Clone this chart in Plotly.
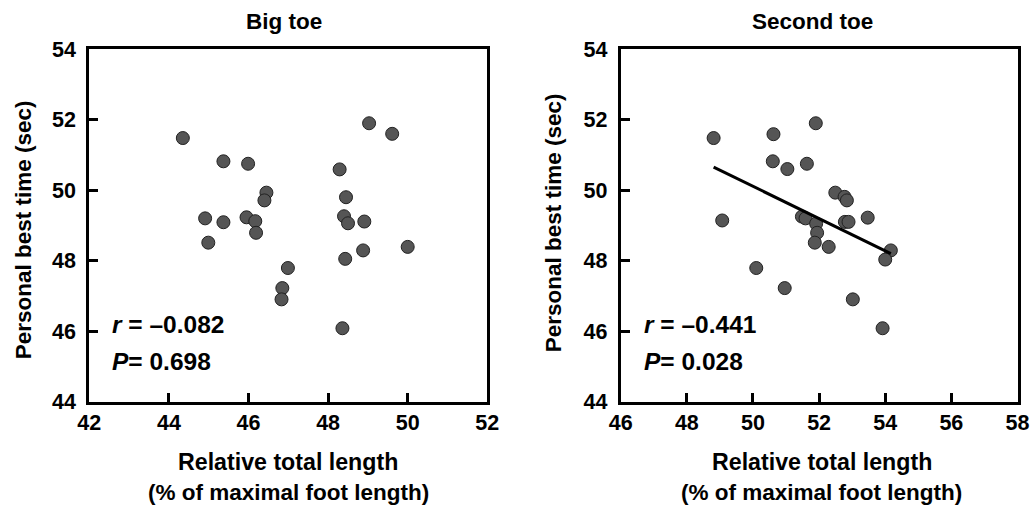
import numpy as np
import plotly.graph_objects as go

# Personal best time (sec)
best_time_big = [51.48, 50.82, 50.75, 51.90, 51.60, 50.59, 49.93, 49.71, 49.20, 49.09,
                 49.23, 49.12, 48.79, 48.51, 49.80, 49.26, 49.06, 49.11, 48.29, 48.39,
                 48.05, 47.79, 47.22, 46.90, 46.08]
big_toe_len = [44.35, 45.37, 45.99, 49.03, 49.61, 48.29, 46.45, 46.40, 44.91, 45.37,
               45.95, 46.17, 46.19, 44.99, 48.45, 48.40, 48.50, 48.91, 48.88, 50.00,
               48.43, 46.99, 46.85, 46.83, 48.36]

best_time_second = [51.48, 49.14, 51.59, 50.82, 50.60, 50.75, 51.90, 49.93, 49.81, 49.71,
                    49.25, 49.20, 49.05, 48.79, 48.51, 48.39, 49.10, 49.10, 49.22, 48.29,
                    48.03, 47.79, 47.22, 46.90, 46.08]
second_toe_len = [48.81, 49.07, 50.62, 50.60, 51.04, 51.63, 51.90, 52.49, 52.77, 52.84,
                  51.48, 51.59, 51.91, 51.94, 51.87, 52.29, 52.78, 52.89, 53.47, 54.17,
                  54.00, 50.10, 50.96, 53.02, 53.92]

titles = ["Big toe", "Second toe"]
stats_r = ["–0.082", "–0.441"]
stats_p = ["0.698", "0.028"]
y_ticks = [44, 46, 48, 50, 52, 54]
x_ticks_big = [42, 44, 46, 48, 50, 52]
x_ticks_second = [46, 48, 50, 52, 54, 56, 58]

FONT = "Liberation Sans, Arial, sans-serif"
W, H = 1031, 507

fig = go.Figure()

marker = dict(size=13, color="#555555", line=dict(color="#222222", width=1))
fig.add_trace(go.Scatter(x=big_toe_len, y=best_time_big, mode="markers",
                         marker=marker, xaxis="x", yaxis="y", showlegend=False))
fig.add_trace(go.Scatter(x=second_toe_len, y=best_time_second, mode="markers",
                         marker=marker, xaxis="x2", yaxis="y2", showlegend=False))

# regression line for second toe
slope, intercept = np.polyfit(second_toe_len, best_time_second, 1)
fx = np.array([min(second_toe_len), max(second_toe_len)])
fig.add_trace(go.Scatter(x=fx, y=slope * fx + intercept, mode="lines",
                         line=dict(color="black", width=3), xaxis="x2", yaxis="y2",
                         showlegend=False))

left_dom = [89.3 / W, 487.3 / W]
right_dom = [620.7 / W, 1017.5 / W]
y_dom = [1 - 401.5 / H, 1 - 49.3 / H]

tickfont = dict(family=FONT, size=21.5, color="black", weight="bold")
axis_common = dict(showgrid=False, zeroline=False, showline=True, linecolor="black",
                   linewidth=3, mirror=True, ticks="inside", ticklen=9, tickwidth=3,
                   tickcolor="black", tickfont=tickfont, automargin=False)

fig.update_layout(
    width=W, height=H,
    margin=dict(l=0, r=0, t=0, b=0),
    paper_bgcolor="white", plot_bgcolor="white",
    xaxis=dict(domain=left_dom, range=[42, 52], tickvals=x_ticks_big, anchor="y",
               ticklabelstandoff=0, **axis_common),
    yaxis=dict(domain=y_dom, range=[44, 54], tickvals=y_ticks, anchor="x",
               ticklabelstandoff=6, **axis_common),
    xaxis2=dict(domain=right_dom, range=[46, 58], tickvals=x_ticks_second, anchor="y2",
                ticklabelstandoff=0, **axis_common),
    yaxis2=dict(domain=y_dom, range=[44, 54], tickvals=y_ticks, anchor="x2",
                ticklabelstandoff=6, **axis_common),
)

title_font = dict(family=FONT, size=22.5, color="black", weight="bold")
xtitle_font = dict(family=FONT, size=23.2, color="black", weight="bold")
stat_font = dict(family=FONT, size=24.5, color="black", weight="bold")

panels = [
    dict(title_x=284, xcenter=288, ylab_x=23.3, ylab_y=230, stat_x=110),
    dict(title_x=812.7, xcenter=821.7, ylab_x=553.3, ylab_y=223, stat_x=641.7),
]
for i, p in enumerate(panels):
    fig.add_annotation(text=titles[i], x=p["title_x"] / W, y=1 - 21.7 / H,
                       xref="paper", yref="paper", showarrow=False, font=title_font,
                       xanchor="center", yanchor="middle")
    fig.add_annotation(text="Relative total length", x=p["xcenter"] / W, y=1 - 461.7 / H,
                       xref="paper", yref="paper", showarrow=False, font=xtitle_font,
                       xanchor="center", yanchor="middle")
    fig.add_annotation(text="(% of maximal foot length)", x=p["xcenter"] / W, y=1 - 492 / H,
                       xref="paper", yref="paper", showarrow=False, font=title_font,
                       xanchor="center", yanchor="middle")
    fig.add_annotation(text="Personal best time (sec)", x=p["ylab_x"] / W, y=1 - p["ylab_y"] / H,
                       xref="paper", yref="paper", showarrow=False, font=title_font,
                       textangle=-90, xanchor="center", yanchor="middle")
    fig.add_annotation(text="<i>r</i> = " + stats_r[i], x=p["stat_x"] / W, y=1 - 324 / H,
                       xref="paper", yref="paper", showarrow=False, font=stat_font,
                       xanchor="left", yanchor="middle")
    fig.add_annotation(text="<i>P</i>= " + stats_p[i], x=p["stat_x"] / W, y=1 - 361 / H,
                       xref="paper", yref="paper", showarrow=False, font=stat_font,
                       xanchor="left", yanchor="middle")

fig.write_html("out.html", config={"displayModeBar": False},
               post_script="document.body.style.margin='0';document.body.style.overflow='hidden';")
